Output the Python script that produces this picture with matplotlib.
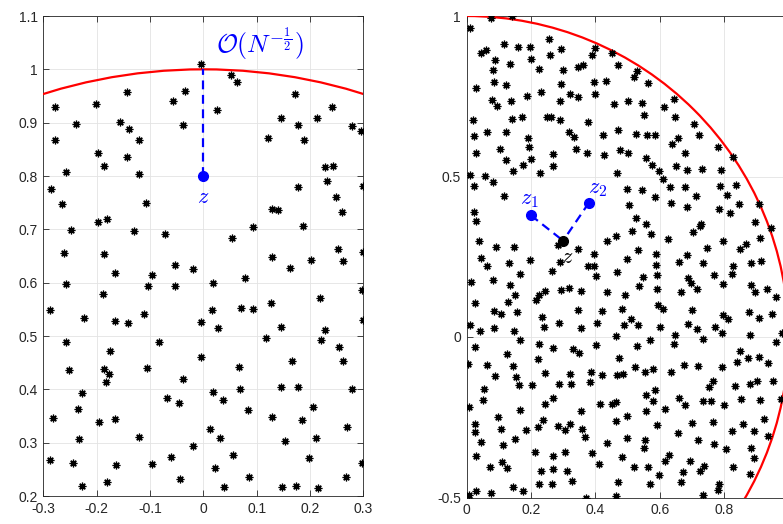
import numpy as np
import matplotlib.pyplot as plt
from matplotlib.patches import Circle

plt.rcParams['font.family'] = ['Liberation Sans', 'DejaVu Sans']
plt.rcParams['mathtext.fontset'] = 'cm'
plt.rcParams['font.size'] = 10

# left panel: eigenvalues near the edge
left_x = [-0.004, -0.034, -0.056, -0.143, -0.201, -0.278, -0.239, -0.157, -0.140, -0.038, -0.279, -0.121, -0.198, -0.144, -0.186, -0.258, -0.121,
          0.052, 0.063, 0.026, 0.171, 0.146, 0.178, 0.213, 0.241, 0.121, 0.189, 0.278, 0.296, 0.228, 0.244,
          -0.286, -0.266, -0.108, -0.198, -0.181, -0.248, -0.130, -0.071, -0.262, -0.186, -0.053, -0.019, -0.165, -0.096, -0.258, -0.104, -0.053, -0.188, -0.288, -0.223, -0.166, -0.141, -0.111, -0.004,
          0.177, 0.231, 0.299, 0.249, 0.128, 0.140, 0.260, 0.094, 0.186, 0.053, 0.253, 0.299, 0.128, 0.202, 0.261, 0.162, 0.078, 0.018, 0.298, 0.219, 0.126, 0.016, 0.070, 0.094, 0.028, 0.146, 0.228, 0.299,
          -0.257, -0.176, -0.084, -0.004, -0.252, -0.186, -0.177, -0.182, -0.105, -0.038, -0.228, -0.236, -0.068, -0.045, -0.282, -0.196, -0.166, 0.013, -0.233, -0.120, -0.019, -0.288, -0.245, -0.164, -0.096, -0.061, -0.044, -0.180, -0.228,
          0.117, 0.221, 0.255, 0.166, 0.261, 0.066, 0.019, 0.069, 0.146, 0.177, 0.278, 0.036, 0.084, 0.129, 0.206, 0.185, 0.269, 0.031, 0.153, 0.211, 0.055, 0.199, 0.297, 0.022, 0.086, 0.267, 0.038, 0.148, 0.174, 0.215]
left_y = [1.010, 0.959, 0.941, 0.958, 0.935, 0.929, 0.898, 0.902, 0.888, 0.896, 0.868, 0.868, 0.844, 0.835, 0.819, 0.808, 0.804,
          0.989, 0.976, 0.924, 0.954, 0.908, 0.896, 0.908, 0.929, 0.872, 0.867, 0.894, 0.884, 0.816, 0.819,
          0.776, 0.748, 0.750, 0.714, 0.720, 0.698, 0.697, 0.692, 0.656, 0.653, 0.633, 0.625, 0.618, 0.614, 0.597, 0.594, 0.594, 0.578, 0.549, 0.533, 0.529, 0.524, 0.541, 0.527,
          0.779, 0.790, 0.781, 0.761, 0.738, 0.737, 0.733, 0.705, 0.707, 0.684, 0.664, 0.658, 0.649, 0.643, 0.640, 0.628, 0.609, 0.599, 0.586, 0.572, 0.562, 0.549, 0.552, 0.550, 0.515, 0.517, 0.512, 0.530,
          0.488, 0.472, 0.488, 0.460, 0.437, 0.439, 0.428, 0.413, 0.440, 0.419, 0.394, 0.363, 0.384, 0.374, 0.346, 0.339, 0.345, 0.326, 0.306, 0.311, 0.293, 0.268, 0.261, 0.258, 0.260, 0.274, 0.232, 0.227, 0.218,
          0.496, 0.492, 0.479, 0.454, 0.454, 0.441, 0.395, 0.400, 0.404, 0.405, 0.400, 0.380, 0.361, 0.349, 0.366, 0.343, 0.329, 0.308, 0.303, 0.309, 0.277, 0.271, 0.261, 0.253, 0.235, 0.235, 0.217, 0.217, 0.218, 0.215]

# right panel: quarter disc
right_x = [0.010, 0.075, 0.140, 0.116, 0.161, 0.198, 0.255, 0.295, 0.398, 0.391, 0.452, 0.470, 0.046, 0.061, 0.090, 0.135, 0.199, 0.258,
           0.083, 0.224, 0.301, 0.345, 0.361, 0.086, 0.123, 0.030, 0.293, 0.397, 0.433, 0.230, 0.187, 0.320, 0.347, 0.400, 0.080, 0.138,
           0.096, 0.290, 0.458, 0.021, 0.141, 0.173, 0.250, 0.262, 0.291, 0.378, 0.022, 0.065, 0.122, 0.319, 0.335, 0.472, 0.191, 0.425,
           0.104, 0.195, 0.340, 0.477, 0.030, 0.268, 0.373, 0.427, 0.124, 0.201, 0.175, 0.269, 0.145, 0.227, 0.467, 0.010, 0.058,
           0.528, 0.520, 0.565, 0.502, 0.545, 0.643, 0.613, 0.552, 0.647, 0.705, 0.527, 0.560, 0.586, 0.723, 0.658, 0.637, 0.501, 0.678,
           0.780, 0.828, 0.559, 0.575, 0.597, 0.651, 0.685, 0.731, 0.790,
           0.024, 0.082, 0.116, 0.022, 0.030, 0.465, 0.436, 0.039, 0.091, 0.148, 0.285, 0.346, 0.396, 0.046, 0.196, 0.133, 0.289, 0.376,
           0.397, 0.063, 0.264, 0.165, 0.402, 0.468, 0.081, 0.013, 0.134, 0.244, 0.292, 0.319, 0.356, 0.436, 0.152, 0.226, 0.216, 0.129,
           0.026, 0.484, 0.085, 0.108, 0.158, 0.346, 0.420, 0.234, 0.287, 0.406, 0.010, 0.084, 0.241, 0.356, 0.041, 0.147, 0.489, 0.463,
           0.609, 0.498, 0.545, 0.631, 0.679, 0.787, 0.838, 0.584, 0.713, 0.810, 0.505, 0.634, 0.686, 0.846, 0.907, 0.784, 0.818, 0.527,
           0.557, 0.728, 0.725, 0.897, 0.947, 0.513, 0.573, 0.703, 0.625, 0.797, 0.912, 0.869, 0.747, 0.849, 0.532, 0.588, 0.685, 0.497,
           0.661, 0.733, 0.590, 0.883, 0.915, 0.829, 0.770, 0.824, 0.592, 0.548, 0.687, 0.698, 0.715, 0.536, 0.591, 0.798, 0.883, 0.667,
           0.897, 0.932, 0.962, 0.493, 0.594, 0.609, 0.700, 0.797, 0.813, 0.876, 0.907, 0.948, 0.512, 0.532, 0.601, 0.689, 0.717, 0.772,
           0.794, 0.648, 0.879, 0.980,
           0.026, 0.166, 0.224, 0.270, 0.330, 0.348, 0.403, 0.126, 0.221, 0.473, 0.005, 0.065, 0.145, 0.090, 0.155, 0.245, 0.321, 0.388,
           0.422, 0.467, 0.486, 0.164, 0.202, 0.288, 0.325, 0.382, 0.054, 0.050, 0.269, 0.007, 0.245, 0.414, 0.451, 0.464, 0.166, 0.356,
           0.097, 0.238, 0.464, 0.026, 0.026, 0.106, 0.185, 0.221, 0.284, 0.305, 0.322, 0.360, 0.369, 0.150, 0.045, 0.114, 0.436, 0.213,
           0.306, 0.389, 0.031, 0.270, 0.484, 0.109, 0.072, 0.126, 0.410, 0.230, 0.270, 0.313, 0.328, 0.470, 0.226, 0.267, 0.145, 0.176,
           0.028, 0.077, 0.008, 0.372, 0.464,
           0.734, 0.569, 0.530, 0.644, 0.961, 0.849, 0.875, 0.909, 0.936, 0.840, 0.524, 0.554, 0.579, 0.636, 0.677, 0.720, 0.794, 0.766,
           0.754, 0.833, 0.881, 0.901, 0.952, 0.585, 0.559, 0.580, 0.661, 0.680, 0.733, 0.760, 0.799, 0.852, 0.910, 0.976, 0.559, 0.618,
           0.497, 0.593, 0.699, 0.767, 0.858, 0.925, 0.826, 0.892, 0.657, 0.497, 0.555, 0.551, 0.720, 0.770, 0.936, 0.807, 0.882, 0.628,
           0.615, 0.693, 0.892, 0.521, 0.564, 0.739, 0.725, 0.672, 0.829, 0.881, 0.598, 0.569, 0.665, 0.783, 0.780, 0.734]
right_y = [0.963, 0.995, 1.000, 0.914, 0.904, 0.903, 0.927, 0.896, 0.900, 0.877, 0.885, 0.848, 0.886, 0.895, 0.862, 0.850, 0.866, 0.880,
           0.831, 0.835, 0.833, 0.842, 0.846, 0.795, 0.785, 0.777, 0.788, 0.794, 0.799, 0.764, 0.751, 0.756, 0.749, 0.756, 0.738, 0.735,
           0.719, 0.735, 0.726, 0.675, 0.680, 0.686, 0.686, 0.684, 0.675, 0.671, 0.626, 0.638, 0.640, 0.640, 0.624, 0.645, 0.619, 0.628,
           0.587, 0.591, 0.587, 0.584, 0.574, 0.569, 0.572, 0.567, 0.550, 0.556, 0.535, 0.534, 0.518, 0.511, 0.512, 0.506, 0.502,
           0.828, 0.809, 0.791, 0.736, 0.728, 0.742, 0.715, 0.691, 0.686, 0.663, 0.632, 0.630, 0.628, 0.629, 0.619, 0.600, 0.574, 0.572,
           0.593, 0.562, 0.558, 0.536, 0.518, 0.534, 0.521, 0.524, 0.519,
           0.471, 0.484, 0.438, 0.389, 0.360, 0.316, 0.298, 0.298, 0.281, 0.281, 0.288, 0.274, 0.260, 0.247, 0.240, 0.232, 0.233, 0.220,
           0.221, 0.220, 0.205, 0.196, 0.191, 0.204, 0.178, 0.170, 0.162, 0.142, 0.147, 0.152, 0.142, 0.139, 0.130, 0.130, 0.116, 0.110,
           0.105, 0.088, 0.080, 0.072, 0.077, 0.084, 0.080, 0.061, 0.045, 0.045, 0.036, 0.028, 0.031, 0.028, 0.018, 0.020, 0.036, 0.003,
           0.493, 0.462, 0.459, 0.467, 0.466, 0.471, 0.475, 0.435, 0.438, 0.441, 0.412, 0.418, 0.404, 0.414, 0.415, 0.398, 0.385, 0.371,
           0.353, 0.353, 0.346, 0.358, 0.341, 0.329, 0.320, 0.326, 0.306, 0.299, 0.307, 0.291, 0.277, 0.273, 0.270, 0.259, 0.256, 0.244,
           0.233, 0.231, 0.225, 0.232, 0.236, 0.221, 0.193, 0.195, 0.192, 0.186, 0.185, 0.167, 0.148, 0.160, 0.148, 0.165, 0.163, 0.141,
           0.140, 0.148, 0.124, 0.130, 0.099, 0.088, 0.084, 0.067, 0.055, 0.079, 0.060, 0.073, 0.057, 0.036, 0.031, 0.040, 0.024, 0.030,
           0.012, 0.007, 0.007, 0.013,
           -0.031, -0.010, -0.022, -0.033, -0.036, -0.050, -0.024, -0.054, -0.069, -0.064, -0.084, -0.088, -0.091, -0.123, -0.125, -0.113, -0.115, -0.110,
           -0.118, -0.117, -0.114, -0.148, -0.150, -0.147, -0.145, -0.140, -0.163, -0.197, -0.189, -0.217, -0.209, -0.209, -0.209, -0.204, -0.226, -0.231,
           -0.248, -0.259, -0.261, -0.270, -0.295, -0.288, -0.290, -0.280, -0.276, -0.290, -0.272, -0.286, -0.312, -0.319, -0.327, -0.335, -0.329, -0.357,
           -0.358, -0.360, -0.372, -0.372, -0.374, -0.388, -0.405, -0.409, -0.395, -0.416, -0.410, -0.417, -0.449, -0.451, -0.457, -0.458, -0.468, -0.479,
           -0.479, -0.487, -0.491, -0.501, -0.496,
           -0.007, -0.009, -0.029, -0.023, -0.015, -0.044, -0.066, -0.062, -0.082, -0.079, -0.094, -0.108, -0.099, -0.109, -0.087, -0.091, -0.095, -0.137,
           -0.157, -0.154, -0.145, -0.137, -0.137, -0.166, -0.182, -0.198, -0.191, -0.211, -0.198, -0.198, -0.212, -0.194, -0.196, -0.194, -0.229, -0.224,
           -0.246, -0.275, -0.269, -0.265, -0.271, -0.256, -0.294, -0.292, -0.300, -0.315, -0.321, -0.345, -0.321, -0.333, -0.309, -0.350, -0.347, -0.368,
           -0.385, -0.385, -0.378, -0.405, -0.406, -0.401, -0.418, -0.421, -0.405, -0.428, -0.430, -0.458, -0.453, -0.458, -0.477, -0.491]

# highlighted points
z_left = (0.0, 0.8)
z_right = (0.3, 0.3)
z1 = (0.2, 0.379)
z2 = (0.38, 0.418)

left_xticks = [-0.3, -0.2, -0.1, 0, 0.1, 0.2, 0.3]
left_xlabels = ['-0.3', '-0.2', '-0.1', '0', '0.1', '0.2', '0.3']
left_yticks = [0.2, 0.3, 0.4, 0.5, 0.6, 0.7, 0.8, 0.9, 1.0, 1.1]
left_ylabels = ['0.2', '0.3', '0.4', '0.5', '0.6', '0.7', '0.8', '0.9', '1', '1.1']
right_xticks = [0, 0.2, 0.4, 0.6, 0.8]
right_xlabels = ['0', '0.2', '0.4', '0.6', '0.8']
right_yticks = [-0.5, 0, 0.5, 1]
right_ylabels = ['-0.5', '0', '0.5', '1']

blue = '#0000ff'
star = (8, 2, 0)

fig = plt.figure(figsize=(7.83, 5.24), dpi=100)
ax1 = fig.add_axes([43.4/783, 28/524, 319.9/783, 480/524])
ax2 = fig.add_axes([466.5/783, 26.5/524, 322/783, 481.5/524])


def style(ax):
    ax.grid(True, color='#e3e3e3', linewidth=0.6)
    ax.set_axisbelow(True)
    ax.tick_params(direction='in', top=True, right=True, length=4, width=0.6,
                   colors='#262626', labelsize=10, pad=4)
    for s in ax.spines.values():
        s.set_color('#262626')
        s.set_linewidth(0.6)


# left
style(ax1)
ax1.add_patch(Circle((0, 0), 1, fill=False, color='red', lw=1.6, zorder=3))
ax1.plot(left_x, left_y, ls='none', marker=star, ms=5.5, mew=0.9, color='k', zorder=4)
ax1.plot([z_left[0], z_left[0]], [z_left[1], 1.0], ls=(0, (4, 2.5)), lw=1.6, color=blue, zorder=5)
ax1.plot(*z_left, 'o', ms=7, color=blue, zorder=6)
ax1.text(z_left[0], 0.76, '$z$', color=blue, fontsize=16, ha='center', va='center')
ax1.text(0.105, 1.047, r'$\mathcal{O}(N^{-\frac{1}{2}})$', color=blue, fontsize=18.5,
         ha='center', va='center')
ax1.set_xlim(-0.3, 0.3)
ax1.set_ylim(0.2, 1.1)
ax1.set_xticks(left_xticks, left_xlabels)
ax1.set_yticks(left_yticks, left_ylabels)

# right
style(ax2)
ax2.spines['right'].set_visible(False)
ax2.add_patch(Circle((0, 0), 1, fill=False, color='red', lw=1.6, zorder=3))
ax2.plot(right_x, right_y, ls='none', marker=star, ms=5.5, mew=0.9, color='k', zorder=4)
for p in (z1, z2):
    ax2.plot([p[0], z_right[0]], [p[1], z_right[1]], ls=(0, (4, 2.5)), lw=1.6, color=blue, zorder=5)
    ax2.plot(*p, 'o', ms=7, color=blue, zorder=6)
ax2.plot(*z_right, 'o', ms=7, color='k', zorder=6)
ax2.text(0.196, 0.429, '$z_1$', color=blue, fontsize=16, ha='center', va='center')
ax2.text(0.408, 0.464, '$z_2$', color=blue, fontsize=16, ha='center', va='center')
ax2.text(0.312, 0.249, '$z$', color='k', fontsize=16, ha='center', va='center')
ax2.set_xlim(0, 1)
ax2.set_ylim(-0.5, 1)
ax2.set_xticks(right_xticks, right_xlabels)
ax2.set_yticks(right_yticks, right_ylabels)
ax2.tick_params(right=False)

fig.savefig('out.png', dpi=100)
